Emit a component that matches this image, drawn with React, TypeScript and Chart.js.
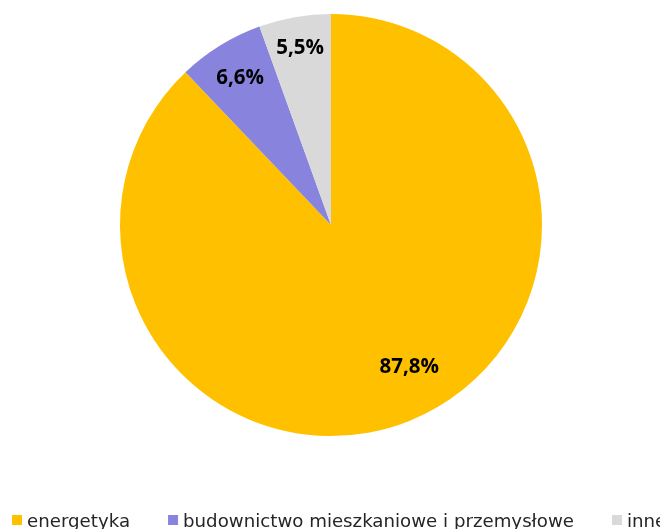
import React, { useEffect, useRef } from "react";
import { Chart, registerables } from "chart.js";

Chart.register(...registerables);

const categories = ["energetyka", "budownictwo mieszkaniowe i przemysłowe", "inne"];
const shares = [87.8, 6.6, 5.5];
const colors = ["#FFC000", "#8884DE", "#D9D9D9"];
const labelRadiusFactors = [0.77, 0.82, 0.85];

const fmt = (v: number) => v.toFixed(1).replace(".", ",") + "%";

const labelPlugin = {
  id: "sliceLabels",
  afterDatasetsDraw(chart: any) {
    const ctx = chart.ctx;
    const meta = chart.getDatasetMeta(0);
    ctx.save();
    ctx.font = "bold 20.5px 'Open Sans'";
    ctx.fillStyle = "#000";
    ctx.textAlign = "center";
    ctx.textBaseline = "middle";
    meta.data.forEach((arc: any, i: number) => {
      const p = arc.getProps(["x", "y", "startAngle", "endAngle", "outerRadius"], true);
      let mid = (p.startAngle + p.endAngle) / 2;
      if (i === 0) mid -= (7 * Math.PI) / 180;
      const r = p.outerRadius * labelRadiusFactors[i];
      ctx.fillText(fmt(shares[i]), p.x + Math.cos(mid) * r, p.y + Math.sin(mid) * r);
    });
    ctx.restore();
  },
};

const legendPlugin = {
  id: "bottomLegend",
  afterDraw(chart: any) {
    const ctx = chart.ctx;
    ctx.save();
    ctx.font = "18.2px 'DejaVu Sans'";
    ctx.textBaseline = "alphabetic";
    ctx.textAlign = "left";
    let x = 12;
    const baseline = 527;
    categories.forEach((c, i) => {
      ctx.fillStyle = colors[i];
      ctx.fillRect(x, 515, 10, 10);
      x += 15;
      ctx.fillStyle = "#262626";
      ctx.fillText(c, x, baseline);
      x += ctx.measureText(c).width + 38;
    });
    ctx.restore();
  },
};

export default function App() {
  const ref = useRef<HTMLCanvasElement | null>(null);
  useEffect(() => {
    if (!ref.current) return;
    const chart = new Chart(ref.current, {
      type: "pie",
      data: {
        labels: categories,
        datasets: [
          {
            data: shares,
            backgroundColor: colors,
            borderWidth: 0,
          },
        ],
      },
      options: {
        animation: false,
        responsive: false,
        maintainAspectRatio: false,
        layout: { padding: { top: 14, bottom: 93, left: 120, right: 118 } },
        plugins: {
          legend: { display: false },
          tooltip: { enabled: false },
        },
      },
      plugins: [labelPlugin, legendPlugin],
    });
    return () => chart.destroy();
  }, []);
  return (
    <div style={{ position: "absolute", left: 0, top: 0, width: 660, height: 529, background: "#fff" }}>
      <canvas ref={ref} width={660} height={529} style={{ width: 660, height: 529 }} />
    </div>
  );
}
